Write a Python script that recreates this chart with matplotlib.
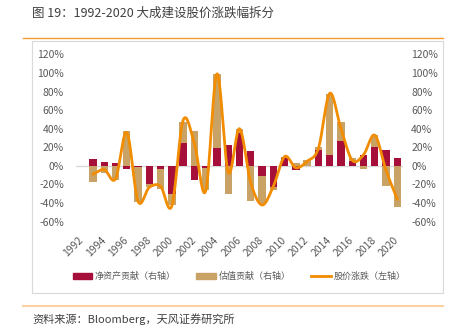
import matplotlib
matplotlib.use("Agg")
import matplotlib.pyplot as plt
import numpy as np
from matplotlib.patches import Rectangle, Patch
from matplotlib.lines import Line2D

plt.rcParams['font.family'] = ['Noto Sans CJK SC', 'DejaVu Sans']

years = list(range(1993, 2021))
# 净资产贡献 (%)
nav = [7, 4, 3, -3, -1, -19, -3, -30, 25, -15, -2, 19, 22, 35, 16, -11, -23, 9, -4.5, 0,
       17, 12, 27, 5, 12, 20, 17, 9]
# 估值贡献 (%)
val = [-17, -8, -15, 37, -38, -4, -22, -12, 22, 38, -24, 80, -30, 5, -38, -30, -3, 1, 3.5, 6,
       3.5, 65, 20, 4, -3.5, 13, -22, -44]
# 股价涨跌 (%)
price = [-9, -4, -14, 36, -38, -23, -22, -43, 49, 24, -27, 99, -7, 40, -18, -42, -22, 10, -2, 5,
         19, 78, 40, 6, 12, 33, -5, -36]
xticks = list(range(1992, 2021, 2))
yticks = [-60, -40, -20, 0, 20, 40, 60, 80, 100, 120]

c_nav = '#A50F3A'
c_val = '#C9A366'
c_line = '#F28C00'
c_txt = '#595959'


def catmull(x, y, n=20):
    # smooth curve through the points, like Excel's smoothed line
    x = np.asarray(x, float)
    y = np.asarray(y, float)
    px = np.concatenate([[2 * x[0] - x[1]], x, [2 * x[-1] - x[-2]]])
    py = np.concatenate([[2 * y[0] - y[1]], y, [2 * y[-1] - y[-2]]])
    xs, ys = [], []
    t = np.linspace(0, 1, n, endpoint=False)
    for i in range(1, len(px) - 2):
        for p, out in ((px, xs), (py, ys)):
            p0, p1, p2, p3 = p[i - 1], p[i], p[i + 1], p[i + 2]
            out.extend(0.5 * (2 * p1 + (-p0 + p2) * t + (2 * p0 - 5 * p1 + 4 * p2 - p3) * t ** 2
                              + (-p0 + 3 * p1 - 3 * p2 + p3) * t ** 3))
    xs.append(x[-1])
    ys.append(y[-1])
    return np.array(xs), np.array(ys)


fig = plt.figure(figsize=(4.49, 3.3), dpi=100)
ax = fig.add_axes([76 / 449, 1 - 221.7 / 330, (403 - 76) / 449, (221.7 - 54.3) / 330])

nav = np.array(nav, float)
val = np.array(val, float)
pos_nav = np.where(nav > 0, nav, 0)
neg_nav = np.where(nav < 0, nav, 0)
pos_val = np.where(val > 0, val, 0)
neg_val = np.where(val < 0, val, 0)
w = 0.65
ax.bar(years, pos_nav, w, color=c_nav, zorder=2)
ax.bar(years, neg_nav, w, color=c_nav, zorder=2)
ax.bar(years, pos_val, w, bottom=pos_nav, color=c_val, zorder=2)
ax.bar(years, neg_val, w, bottom=neg_nav, color=c_val, zorder=2)

sx, sy = catmull(years, price)
ax.plot(sx, sy, color=c_line, lw=2, zorder=3, solid_capstyle='round')

ax.axhline(0, color='#D9D9D9', lw=1, zorder=1)
ax.set_xlim(1991.5, 2020.5)
ax.set_ylim(-60, 120)
ax.set_yticks(yticks)
ax.set_yticklabels([f'{v}%' for v in yticks])
ax.set_xticks(xticks)
ax.set_xticklabels([str(v) for v in xticks], rotation=45, ha='right', va='center',
                   rotation_mode='anchor')
ax.tick_params(axis='y', length=0, pad=8.8, labelsize=7.5, labelcolor=c_txt)
ax.tick_params(axis='x', length=0, pad=12, labelsize=7.5, labelcolor=c_txt)
for s in ax.spines.values():
    s.set_visible(False)

ax2 = ax.twinx()
ax2.set_ylim(-60, 120)
ax2.set_yticks(yticks)
ax2.set_yticklabels([f'{v}%' for v in yticks])
ax2.tick_params(axis='y', length=0, pad=5.8, labelsize=7.5, labelcolor=c_txt)
for s in ax2.spines.values():
    s.set_visible(False)

handles = [Patch(color=c_nav), Patch(color=c_val), Line2D([], [], color=c_line, lw=2)]
labels = ['净资产贡献（右轴）', '估值贡献（右轴）', '股价涨跌（左轴）']
fig.legend(handles, labels, loc='center', bbox_to_anchor=(239 / 449, 1 - 276.7 / 330), ncol=3,
           frameon=False, fontsize=6.5, labelcolor=c_txt, handlelength=2.2, handleheight=0.75,
           handletextpad=0.25, columnspacing=2.3)

fig.add_artist(Rectangle((31.7 / 449, 1 - 292.7 / 330), (443 - 31.7) / 449, (292.7 - 40.5) / 330,
                         transform=fig.transFigure, fill=False, ec='#D9D9D9', lw=0.8))
fig.add_artist(Line2D([23 / 449, 443 / 449], [1 - 37.7 / 330] * 2, transform=fig.transFigure,
                      color='#F39A30', lw=1))
fig.add_artist(Line2D([23 / 449, 443 / 449], [1 - 305.7 / 330] * 2, transform=fig.transFigure,
                      color='#FBD1A2', lw=1.5))
fig.text(32 / 449, 1 - 13 / 330, '图 19：1992-2020 大成建设股价涨跌幅拆分', fontsize=9,
         color='#404040', va='center', ha='left')
fig.text(32 / 449, 1 - 319 / 330, '资料来源：Bloomberg，天风证券研究所', fontsize=8,
         color='#404040', va='center', ha='left')

fig.savefig('out.png', dpi=100)
